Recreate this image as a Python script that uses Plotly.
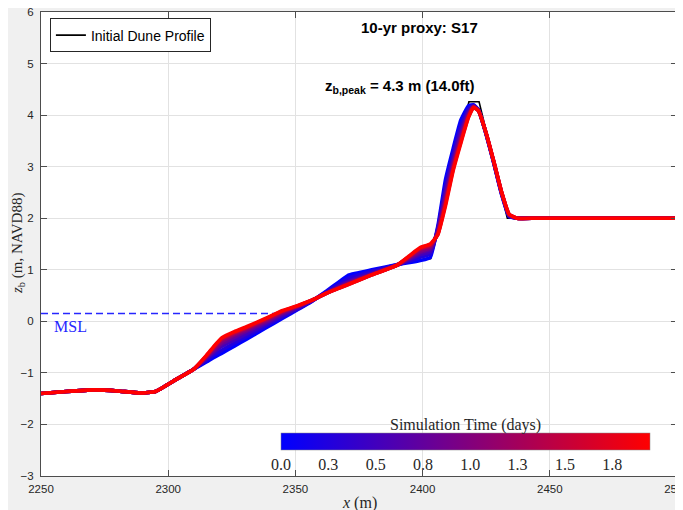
import plotly.graph_objects as go

# ---------------- data ----------------
# common seaward toe segment shared by all profiles
X_TOE = [2250, 2260, 2271, 2280, 2289, 2295, 2303]
Z_TOE = [-1.40, -1.36, -1.33, -1.35, -1.39, -1.36, -1.13]
# common landward flat segment
X_BACK = [2437, 2445, 2500]
Z_BACK = [2.0, 2.0, 2.0]

# initial dune profile (black)
X_INIT = [2250, 2260, 2271, 2280, 2289, 2295, 2303, 2310, 2356, 2371, 2390,
          2403.2, 2418.2, 2422.2, 2433.3, 2500]
Z_INIT = [-1.40, -1.36, -1.33, -1.35, -1.39, -1.36, -1.13, -0.93, 0.37, 0.90,
          1.10, 1.22, 4.26, 4.26, 2.0, 2.0]

# simulated profiles, cross-shore positions of the evolving part
X_MID = [2310, 2315, 2318, 2321, 2326, 2331, 2338, 2345, 2351, 2356, 2362,
         2367, 2371, 2380, 2390, 2395, 2399, 2403, 2406, 2409, 2412, 2415,
         2418, 2420, 2422, 2425, 2428, 2431, 2434]

TIMES = [0.0, 0.25, 0.5, 0.75, 1.0, 1.25, 1.5, 1.95]  # days

Z_T0 = [-0.93, -0.79, -0.70, -0.62, -0.48, -0.34, -0.14, 0.06, 0.23, 0.37, 0.58,
        0.76, 0.90, 1.00, 1.10, 1.14, 1.18, 1.24, 1.85, 2.75, 3.35, 3.90,
        4.18, 4.20, 4.10, 3.62, 3.06, 2.47, 2.03]
Z_T1 = [-0.93, -0.76, -0.65, -0.56, -0.42, -0.29, -0.10, 0.09, 0.24, 0.38, 0.57,
        0.72, 0.84, 0.97, 1.10, 1.17, 1.24, 1.30, 1.81, 2.63, 3.25, 3.80,
        4.13, 4.19, 4.10, 3.63, 3.07, 2.48, 2.04]
Z_T2 = [-0.93, -0.73, -0.60, -0.49, -0.36, -0.24, -0.06, 0.12, 0.26, 0.38, 0.55,
        0.69, 0.78, 0.94, 1.09, 1.20, 1.29, 1.35, 1.78, 2.53, 3.16, 3.70,
        4.08, 4.18, 4.09, 3.63, 3.08, 2.49, 2.05]
Z_T3 = [-0.93, -0.71, -0.57, -0.44, -0.31, -0.19, -0.03, 0.15, 0.28, 0.39, 0.55,
        0.67, 0.76, 0.92, 1.09, 1.22, 1.33, 1.40, 1.75, 2.45, 3.09, 3.62,
        4.04, 4.17, 4.09, 3.64, 3.08, 2.50, 2.06]
Z_T4 = [-0.93, -0.69, -0.54, -0.40, -0.27, -0.16, 0.00, 0.17, 0.29, 0.39, 0.54,
        0.65, 0.74, 0.91, 1.09, 1.24, 1.36, 1.43, 1.72, 2.38, 3.03, 3.56,
        4.01, 4.16, 4.09, 3.64, 3.09, 2.51, 2.06]
Z_T5 = [-0.93, -0.68, -0.51, -0.36, -0.24, -0.13, 0.02, 0.19, 0.30, 0.40, 0.54,
        0.65, 0.73, 0.90, 1.09, 1.26, 1.40, 1.46, 1.70, 2.31, 2.98, 3.51,
        3.98, 4.16, 4.08, 3.64, 3.09, 2.51, 2.07]
Z_T6 = [-0.93, -0.67, -0.50, -0.34, -0.22, -0.12, 0.04, 0.20, 0.30, 0.40, 0.54,
        0.64, 0.72, 0.90, 1.09, 1.27, 1.41, 1.48, 1.69, 2.28, 2.95, 3.48,
        3.96, 4.15, 4.08, 3.65, 3.10, 2.52, 2.08]
Z_T7 = [-0.93, -0.66, -0.48, -0.32, -0.20, -0.10, 0.05, 0.21, 0.31, 0.40, 0.54,
        0.64, 0.72, 0.90, 1.09, 1.28, 1.43, 1.50, 1.68, 2.24, 2.92, 3.45,
        3.95, 4.15, 4.08, 3.65, 3.10, 2.52, 2.08]
PROFILES = [Z_T0, Z_T1, Z_T2, Z_T3, Z_T4, Z_T5, Z_T6, Z_T7]

MSL_Z = 0.15
MSL_X = [2250, 2347]

CB_TICKVALS = [0.0, 0.25, 0.5, 0.75, 1.0, 1.25, 1.5, 1.75]
CB_TICKTEXT = ["0.0", "0.3", "0.5", "0.8", "1.0", "1.3", "1.5", "1.8"]
T_MAX = 1.95

# ---------------- figure ----------------
SERIF = "Liberation Serif, Times New Roman, serif"
SANS = "Liberation Sans, Arial, sans-serif"
TXT = "#262626"


def tcolor(t):
    f = t / T_MAX
    return f"rgb({int(round(255 * f))},0,{int(round(255 * (1 - f)))})"


fig = go.Figure()

fig.add_trace(go.Scatter(x=X_INIT, y=Z_INIT, mode="lines",
                         line=dict(color="black", width=1.6),
                         name="Initial Dune Profile", showlegend=True))

fig.add_trace(go.Scatter(x=MSL_X, y=[MSL_Z, MSL_Z], mode="lines",
                         line=dict(color="#2626ff", width=1.5, dash="7px,4px"),
                         showlegend=False, hoverinfo="skip"))

for t, zm in zip(TIMES, PROFILES):
    fig.add_trace(go.Scatter(x=X_TOE + X_MID + X_BACK, y=Z_TOE + zm + Z_BACK,
                             mode="lines",
                             line=dict(color=tcolor(t), width=3.6,
                                       shape="spline", smoothing=0.4),
                             showlegend=False, hoverinfo="skip"))

# colour bar carrier
fig.add_trace(go.Scatter(
    x=[2300, 2400], y=[-10, -10], mode="markers", showlegend=False,
    hoverinfo="skip",
    marker=dict(size=1, color=[0, T_MAX], cmin=0, cmax=T_MAX,
                colorscale=[[0, "rgb(0,0,255)"], [1, "rgb(255,0,0)"]],
                showscale=True,
                colorbar=dict(
                    orientation="h", x=0.6675, xanchor="center",
                    y=0.0933, yanchor="top", len=0.58, lenmode="fraction",
                    thickness=17, xpad=0, ypad=0,
                    outlinewidth=0.5, outlinecolor="#888",
                    tickvals=CB_TICKVALS, ticktext=CB_TICKTEXT, ticks="",
                    tickfont=dict(family=SERIF, size=16, color=TXT),
                ))))

axis_common = dict(showgrid=True, gridcolor="#e2e2e2", gridwidth=1,
                   zeroline=False, showline=True, linecolor="#4d4d4d",
                   linewidth=1, mirror="ticks", ticks="inside", ticklen=6,
                   tickcolor="#4d4d4d", automargin=False,
                   ticklabeloverflow="allow",
                   tickfont=dict(family=SANS, size=11.5, color=TXT))

fig.update_xaxes(range=[2250, 2500], dtick=50, tickformat="d",
                 ticklabelstandoff=2, **axis_common)
fig.update_yaxes(range=[-3, 6], dtick=1, ticklabelstandoff=4, **axis_common)

# axis titles
fig.add_annotation(xref="paper", yref="paper", x=0.5, y=-0.058,
                   text="<i>x</i> (m)", showarrow=False,
                   xanchor="center", yanchor="middle",
                   font=dict(family=SERIF, size=16, color=TXT))
fig.add_annotation(xref="paper", yref="paper", x=-0.037, y=0.501,
                   text="<i>z</i><sub>b</sub> (m, NAVD88)", showarrow=False,
                   textangle=-90, xanchor="center", yanchor="middle",
                   font=dict(family=SERIF, size=15, color=TXT))
# colour bar title
fig.add_annotation(xref="paper", yref="paper", x=0.6675, y=0.110,
                   text="Simulation Time (days)", showarrow=False,
                   xanchor="center", yanchor="middle",
                   font=dict(family=SERIF, size=16, color=TXT))

fig.add_annotation(x=2398.7, y=5.70, text="<b>10-yr proxy: S17</b>",
                   showarrow=False, font=dict(family=SANS, size=15, color="black"))
fig.add_annotation(x=2391, y=4.55,
                   text="<b>z<sub>b,peak</sub> = 4.3 m (14.0ft)</b>",
                   showarrow=False, font=dict(family=SANS, size=15, color="black"))
fig.add_annotation(x=2261.4, y=-0.10, text="MSL", showarrow=False,
                   font=dict(family=SERIF, size=16, color="#2626ff"))

# the page adds an 8 px body margin, so the figure is sized to the rest
fig.update_layout(
    width=675, height=502,
    margin=dict(l=33, r=6, t=4, b=34, autoexpand=False),
    paper_bgcolor="#f0f0f0", plot_bgcolor="white",
    showlegend=True,
    legend=dict(x=0.014, y=0.986, xanchor="left", yanchor="top",
                bgcolor="white", bordercolor="#262626", borderwidth=1,
                font=dict(family=SANS, size=14, color="black"),
                itemwidth=30, tracegroupgap=0),
)

fig.write_html("out.html")
